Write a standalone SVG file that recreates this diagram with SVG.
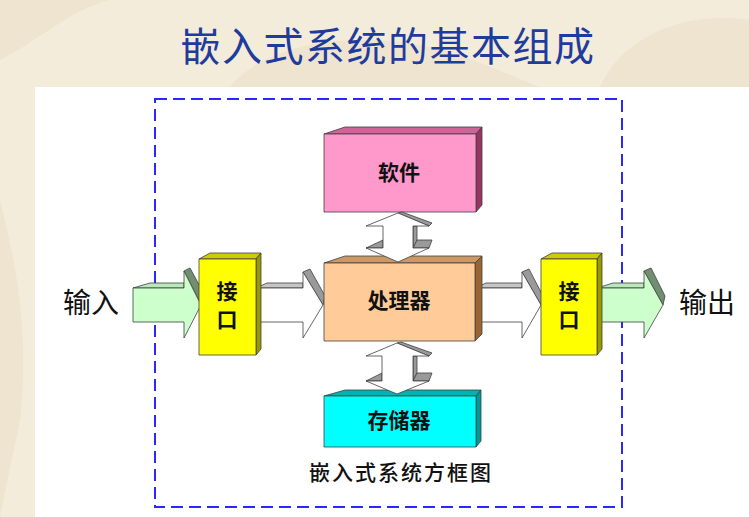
<svg xmlns="http://www.w3.org/2000/svg" width="749" height="517" viewBox="0 0 749 517">
<defs>
<style>
.bg{fill:#f4ecdb}
.blot{fill:#ebdfc6;opacity:0.55}
.panel{fill:#ffffff}
.frame{fill:none;stroke:#2828ff;stroke-width:2;stroke-dasharray:12 6}
.edge{stroke:#404040;stroke-width:0.8;stroke-linejoin:round}
.title{font-family:"Noto Sans CJK SC","Noto Sans CJK TC",sans-serif;font-size:40px;fill:#1f3c9c;letter-spacing:1.5px}
.lbl{font-family:"Noto Sans CJK SC","Noto Sans CJK TC",sans-serif;font-size:21px;font-weight:bold;fill:#111;text-anchor:middle}
.io{font-family:"Noto Sans CJK SC","Noto Sans CJK TC",sans-serif;font-size:28px;fill:#111;text-anchor:middle}
.cap{font-family:"Noto Sans CJK SC","Noto Sans CJK TC",sans-serif;font-size:21px;font-weight:500;fill:#111;text-anchor:middle;letter-spacing:2px}
.gfront{fill:#ccffcc}
.gtop{fill:#b9e8b9}
.gband{fill:#6f8f70}
.wfront{fill:#ffffff}
.wtop{fill:#c6c6c6}
.wband{fill:#9a9a9a}
</style>
</defs>
<rect class="bg" x="0" y="0" width="749" height="517"/>
<path class="blot" d="M0,60 C40,40 70,10 110,0 L0,0 Z"/>
<path class="blot" d="M230,87 C260,50 330,30 420,45 C470,55 520,80 540,87 Z"/>
<path class="blot" d="M600,87 C620,40 680,10 749,20 L749,87 Z"/>
<path class="blot" d="M0,200 C15,260 30,330 20,420 L0,517 Z"/>
<rect class="panel" x="35" y="87" width="714" height="430"/>
<text class="title" x="388" y="61" text-anchor="middle">嵌入式系统的基本组成</text>
<rect class="frame" x="155" y="99" width="467" height="408"/>

<g id="connectors">
  <g id="arrow-in">
    <polygon class="gtop edge" points="133,288 150,283 184,283 184,288"/>
    <polygon class="gband edge" points="184,271 190,268 203,292 201,305"/>
    <polygon class="gfront edge" points="133,288 184,288 184,271 201,305 184,338 184,322 133,322"/>
  </g>
  <g id="arrow-if-cpu">
    <polygon class="wtop edge" points="256,288 267,283 303,283 303,288"/>
    <polygon class="wband edge" points="303,272 310,269 325,296 323,305"/>
    <polygon class="wfront edge" points="256,288 303,288 303,272 323,305 303,338 303,322 256,322"/>
  </g>
  <g id="arrow-cpu-if">
    <polygon class="wtop edge" points="475,288 486,283 522,283 522,288"/>
    <polygon class="wband edge" points="522,272 529,269 543,296 541,305"/>
    <polygon class="wfront edge" points="475,288 522,288 522,272 541,305 522,338 522,322 475,322"/>
  </g>
  <g id="arrow-out">
    <polygon class="gtop edge" points="597,288 613,283 644,283 644,288"/>
    <polygon class="gband edge" points="644,271 651,268 665,296 663,305"/>
    <polygon class="gfront edge" points="597,288 644,288 644,271 663,305 644,338 644,322 597,322"/>
  </g>
</g>

<g id="node-software">
  <polygon class="edge" fill="#cc6699" points="324,134 345,127 482,127 476,134"/>
  <polygon class="edge" fill="#993366" points="476,134 482,127 482,205 476,212"/>
  <rect class="edge" fill="#ff99cc" x="324" y="134" width="152" height="78"/>
  <text class="lbl" x="399" y="180">软件</text>
</g>
<g id="node-cpu">
  <polygon class="edge" fill="#cc9966" points="324,263 345,256 482,256 475,263"/>
  <polygon class="edge" fill="#996633" points="475,263 482,256 482,334 475,341"/>
  <rect class="edge" fill="#ffcc99" x="324" y="263" width="151" height="78"/>
  <text class="lbl" x="399" y="308">处理器</text>
</g>
<g id="node-memory">
  <polygon class="edge" fill="#00b3b3" points="324,396 345,390 481,390 476,396"/>
  <polygon class="edge" fill="#009999" points="476,396 481,390 481,441 476,447"/>
  <rect class="edge" fill="#00ffff" x="324" y="396" width="152" height="51"/>
  <text class="lbl" x="399" y="428">存储器</text>
</g>
<g id="node-if-left">
  <polygon class="edge" fill="#cccc00" points="199,259 210,253 261,253 256,259"/>
  <polygon class="edge" fill="#999900" points="256,259 261,253 261,349 256,355"/>
  <rect class="edge" fill="#ffff00" x="199" y="259" width="57" height="96"/>
  <text class="lbl" x="227" y="299">接</text>
  <text class="lbl" x="227" y="327">口</text>
</g>
<g id="node-if-right">
  <polygon class="edge" fill="#cccc00" points="541,259 552,253 602,253 597,259"/>
  <polygon class="edge" fill="#999900" points="597,259 602,253 602,349 597,355"/>
  <rect class="edge" fill="#ffff00" x="541" y="259" width="56" height="96"/>
  <text class="lbl" x="569" y="299">接</text>
  <text class="lbl" x="569" y="327">口</text>
</g>

<g id="connectors-vertical">
  <g id="arrow-sw-cpu">
    <polygon class="wband edge" points="398,213 402,212 432,223 429,226"/>
    <polygon class="wband edge" points="413,226 417,226 417,241 413,248"/>
    <polygon class="wband edge" points="413,248 417,240 432,240 429,248"/>
    <polygon class="wband edge" points="366,248 383,240 383,248"/>
    <polygon class="wfront edge" points="398,213 429,226 413,226 413,248 429,248 398,262 366,248 383,248 383,226 366,226"/>
  </g>
  <g id="arrow-cpu-mem">
    <polygon class="wband edge" points="397,343 401,342 432,353 429,356"/>
    <polygon class="wband edge" points="413,356 417,356 417,373 413,381"/>
    <polygon class="wband edge" points="413,381 417,373 432,373 429,381"/>
    <polygon class="wband edge" points="366,381 382,373 382,381"/>
    <polygon class="wfront edge" points="397,343 429,356 413,356 413,381 429,381 397,394 366,381 382,381 382,356 366,356"/>
  </g>
</g>

<text class="io" x="91" y="313">输入</text>
<text class="io" x="707" y="313">输出</text>
<text class="cap" x="401" y="480">嵌入式系统方框图</text>
</svg>
